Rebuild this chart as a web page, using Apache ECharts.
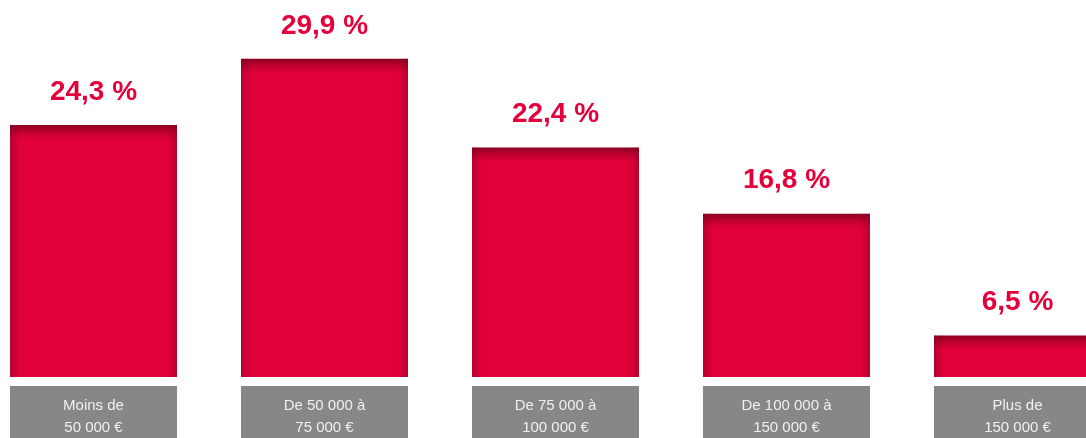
<!DOCTYPE html>
<html>
<head>
<meta charset="utf-8">
<script src="https://cdn.jsdelivr.net/npm/echarts@6/dist/echarts.min.js"></script>
<style>
  html, body { margin: 0; padding: 0; background: #fff; }
  #chart { width: 1086px; height: 438px; }
</style>
</head>
<body>
<div id="chart"></div>
<script>
// données
var categories = ["Moins de\n50 000 €", "De 50 000 à\n75 000 €", "De 75 000 à\n100 000 €", "De 100 000 à\n150 000 €", "Plus de\n150 000 €"];
var values = [24.3, 29.9, 22.4, 16.8, 6.5];

var yMin = 3, yMax = 32;
var gridTop = 34, gridBottom = 61;
var pxPerUnit = (438 - gridTop - gridBottom) / (yMax - yMin);

// ombre intérieure en haut de chaque barre (~14 px)
var barData = values.map(function (v) {
  var h = (v - yMin) * pxPerUnit;
  var off = Math.min(14 / h, 0.5);
  return {
    value: v,
    itemStyle: {
      color: new echarts.graphic.LinearGradient(0, 0, 0, 1, [
        { offset: 0, color: "#8c0020" },
        { offset: off * 0.4, color: "#b8002e" },
        { offset: off, color: "#e0003a" },
        { offset: 1, color: "#e0003a" }
      ])
    }
  };
});

var chart = echarts.init(document.getElementById("chart"));
chart.setOption({
  animation: false,
  grid: {
    left: -22, width: 1155, top: gridTop, bottom: gridBottom,
    containLabel: false,
    outerBoundsMode: "none"
  },
  xAxis: {
    type: "category",
    data: categories,
    axisLine: { show: false },
    axisTick: { show: false },
    axisLabel: {
      interval: 0,
      margin: 9,
      color: "#f0f0f0",
      fontFamily: "'Liberation Sans Narrow', 'Arial Narrow', 'Liberation Sans', sans-serif",
      fontSize: 15,
      lineHeight: 22,
      width: 167,
      align: "center",
      backgroundColor: "#878787",
      padding: [9, 0, 10, 0]
    }
  },
  yAxis: {
    type: "value",
    min: yMin,
    max: yMax,
    show: false
  },
  series: [
    {
      type: "bar",
      data: barData,
      barWidth: 167,
      label: {
        show: true,
        position: "top",
        distance: 19,
        color: "#e4003b",
        fontFamily: "'Liberation Sans', Arial, sans-serif",
        fontWeight: "bold",
        fontSize: 28,
        formatter: function (p) {
          return p.value.toFixed(1).replace(".", ",") + " %";
        }
      }
    },
    {
      // assombrissement des bords gauche / droit
      type: "bar",
      data: values,
      barWidth: 167,
      barGap: "-100%",
      silent: true,
      itemStyle: {
        color: new echarts.graphic.LinearGradient(0, 0, 1, 0, [
          { offset: 0, color: "rgba(110,0,25,0.35)" },
          { offset: 0.06, color: "rgba(110,0,25,0)" },
          { offset: 0.94, color: "rgba(110,0,25,0)" },
          { offset: 1, color: "rgba(110,0,25,0.35)" }
        ])
      }
    }
  ]
});
</script>
</body>
</html>
